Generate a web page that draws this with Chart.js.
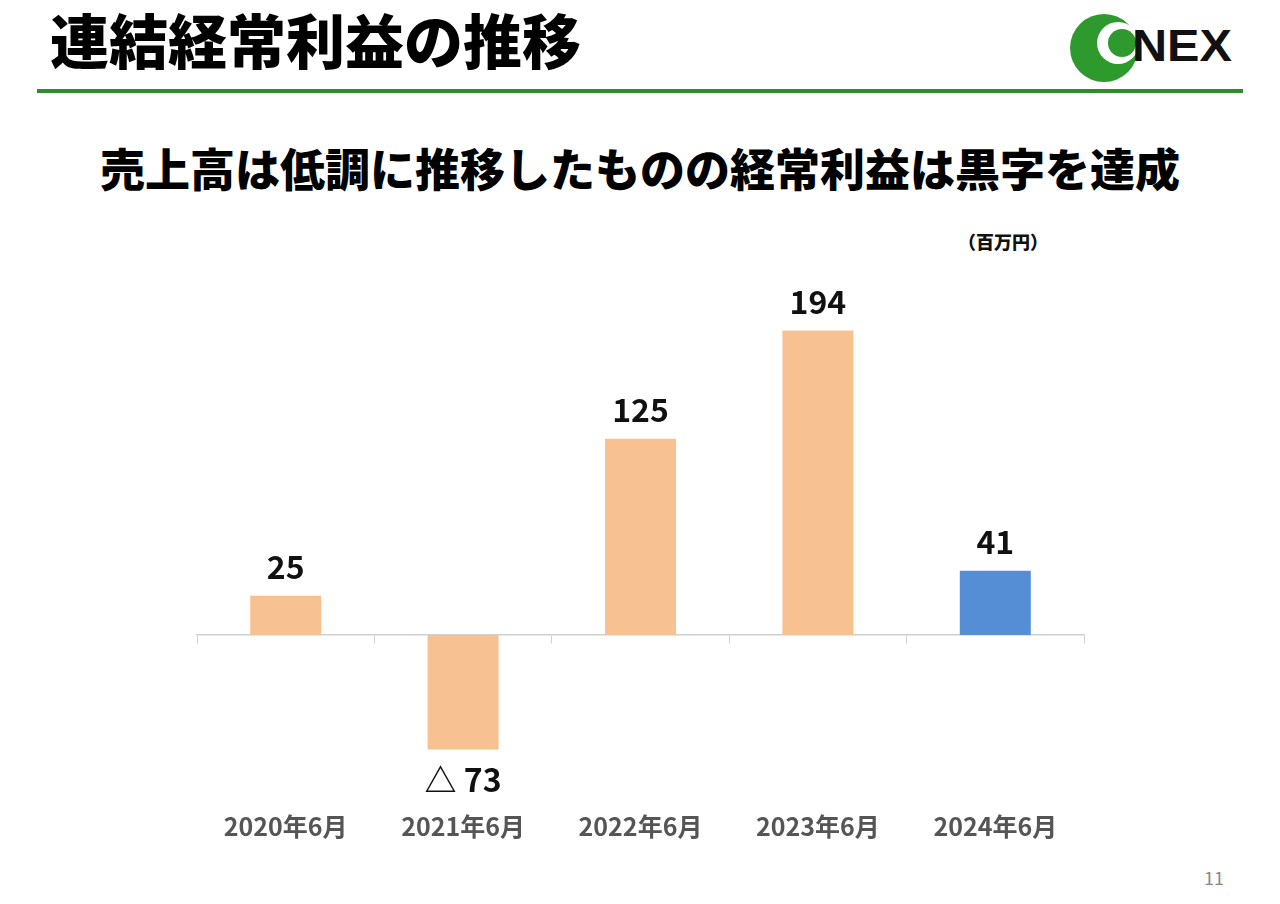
<!DOCTYPE html>
<html><head><meta charset="utf-8">
<script src="https://cdn.jsdelivr.net/npm/chart.js@4"></script>
<style>
body{margin:0;width:1280px;height:904px;background:#fff;position:relative;overflow:hidden;font-family:"Noto Sans CJK JP",sans-serif}
#c{position:absolute;left:0;top:0}
.t{position:absolute;font-weight:900;white-space:nowrap}
</style></head><body>
<div class="t" style="left:50px;top:-4px;font-size:59px;color:#000">連結経常利益の推移</div>
<div style="position:absolute;left:37px;top:89px;width:1206px;height:4px;background:#2e8b2e"></div>
<svg style="position:absolute;left:1060px;top:5px" width="190" height="85">
<circle cx="44" cy="43" r="34" fill="#2e9a2e"/>
<circle cx="58" cy="38" r="21" fill="#fff"/>
<circle cx="62" cy="38" r="14" fill="#2e9a2e"/>
<text x="72" y="56" font-family="Liberation Sans Narrow, Liberation Sans" font-weight="bold" font-size="44" fill="#111" textLength="100" lengthAdjust="spacingAndGlyphs">NEX</text>
</svg>
<div class="t" style="left:0;width:1280px;text-align:center;top:135px;font-size:45px;color:#000">売上高は低調に推移したものの経常利益は黒字を達成</div>
<div class="t" style="left:958px;top:228px;font-size:18px;color:#111">（百万円）</div>
<div class="t" style="left:1204px;top:864px;font-size:18px;color:#888;font-weight:normal">11</div>
<canvas id="c" width="1280" height="904"></canvas>
<script>
const categories=["2020年6月","2021年6月","2022年6月","2023年6月","2024年6月"];
const values=[25,-73,125,194,41];
const labels=["25","△ 73","125","194","41"];
const colors=["#f8c191","#f8c191","#f8c191","#f8c191","#558ed5"];
const dl={id:'dl',afterDatasetsDraw(ch){const c=ch.ctx,m=ch.getDatasetMeta(0);c.save();c.font='bold 32px "Noto Sans CJK JP"';c.fillStyle='#111';c.textAlign='center';c.textBaseline='middle';
m.data.forEach((b,i)=>{const v=values[i];c.fillText(labels[i],b.x,v>=0?b.y-29:b.y+30);});c.restore();}};
new Chart(document.getElementById('c'),{type:'bar',data:{labels:categories,datasets:[{data:values,backgroundColor:colors,barPercentage:0.4,categoryPercentage:1}]},
options:{responsive:false,animation:false,devicePixelRatio:1,layout:{padding:{top:321,left:197,right:196,bottom:52}},
plugins:{legend:{display:false},tooltip:{enabled:false}},
scales:{y:{min:-100,max:200,display:false},
x:{position:{y:0},grid:{drawOnChartArea:false,offset:true,tickLength:8,color:'#d0d0d0'},border:{color:'#d0d0d0',width:1.5},ticks:{display:false}},
x2:{type:'category',position:'bottom',labels:categories,grid:{display:false},border:{display:false},ticks:{color:'#555',font:{family:'"Noto Sans CJK JP"',weight:'bold',size:25},padding:11}}}},
plugins:[dl]});
</script></body></html>
